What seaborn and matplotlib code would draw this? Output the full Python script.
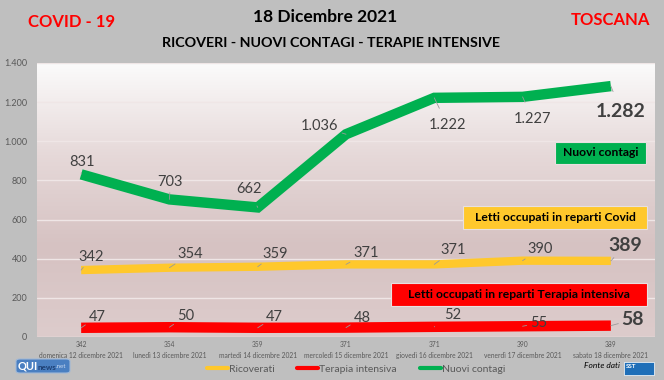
import numpy as np
import pandas as pd
import seaborn as sns
import matplotlib.pyplot as plt
from matplotlib.patches import Rectangle, FancyBboxPatch
from matplotlib.colors import LinearSegmentedColormap

# dati Toscana 12-18 dicembre 2021
giorni = ["domenica 12 dicembre 2021", "lunedì 13 dicembre 2021", "martedì 14 dicembre 2021",
          "mercoledì 15 dicembre 2021", "giovedì 16 dicembre 2021", "venerdì 17 dicembre 2021",
          "sabato 18 dicembre 2021"]
ricoverati = [342, 354, 359, 371, 371, 390, 389]
terapia_intensiva = [47, 50, 47, 48, 52, 55, 58]
nuovi_contagi = [831, 703, 662, 1036, 1222, 1227, 1282]
y_ticks = [0, 200, 400, 600, 800, 1000, 1200, 1400]

GIALLO = "#ffc82c"
ROSSO = "#ff0000"
VERDE = "#00b050"
GRIGIO = "#404040"

serie = {"Ricoverati": ricoverati, "Terapia intensiva": terapia_intensiva, "Nuovi contagi": nuovi_contagi}
df = pd.DataFrame([(i, nome, v) for nome, vals in serie.items() for i, v in enumerate(vals)],
                  columns=["giorno", "serie", "valore"])

sns.set_theme(style="white")
plt.rcParams["font.family"] = ["Lato", "DejaVu Sans"]

W, H = 664, 380
fig = plt.figure(figsize=(W / 100, H / 100), dpi=100, facecolor="#bfbfbf")
ax = fig.add_axes([37 / W, 1 - 337 / H, 618 / W, 274 / H])

# sfondo sfumato dell'area del grafico
sfondo = LinearSegmentedColormap.from_list("sf", ["#fbfbfb", "#e6d9d9", "#d6c2c2", "#ddcccc"])
ax.imshow(np.linspace(0, 1, 256).reshape(-1, 1), cmap=sfondo, extent=[0, 1, 0, 1],
          transform=ax.transAxes, aspect="auto", zorder=0)
ax.set_axisbelow(True)
ax.yaxis.grid(True, color="#efe6e6", linewidth=1.0)

larghezze = {"Ricoverati": 6, "Terapia intensiva": 7.5, "Nuovi contagi": 7.5}
colori = {"Ricoverati": GIALLO, "Terapia intensiva": ROSSO, "Nuovi contagi": VERDE}
for nome in serie:
    sns.lineplot(data=df[df["serie"] == nome], x="giorno", y="valore", color=colori[nome],
                 linewidth=larghezze[nome], ax=ax, legend=False, zorder=3,
                 solid_capstyle="butt", solid_joinstyle="miter")

ax.set_xlim(-0.5, 6.5)
ax.set_ylim(0, 1400)
ax.set_yticks(y_ticks)
ax.set_yticklabels([f"{v:,}".replace(",", ".") for v in y_ticks], fontsize=6.5, color="#595959")
ax.set_xticks(range(len(giorni)))
ax.set_xticklabels([f"{r}\n{g}" for r, g in zip(ricoverati, giorni)], fontsize=4.8,
                   color="#595959", linespacing=1.7)
ax.tick_params(axis="y", length=0, pad=7)
ax.tick_params(axis="x", length=0, pad=3)
ax.set_xlabel("")
ax.set_ylabel("")
for s in ax.spines.values():
    s.set_visible(False)

# etichette dei valori con linee di richiamo
off_contagi = [(1, 12), (1, 17), (-9, 18), (-26, 8), (13, -27), (10, -22), (10, -25)]
off_ricoverati = [(10, 13), (21, 14), (17, 13), (20, 11), (19, 14), (18, 12), (14, 15)]
off_terapia = [(16, 11), (16, 11), (17, 11), (16, 10), (18, 12), (16, 3), (22, 6)]


def etichette(valori, offsets):
    for i, (v, (dx, dy)) in enumerate(zip(valori, offsets)):
        ultimo = i == len(valori) - 1
        ax.annotate(f"{v:,}".replace(",", "."), (i, v), xytext=(dx, dy), textcoords="offset pixels",
                    ha="center", va="center", fontsize=14 if ultimo else 10.5,
                    fontweight="bold" if ultimo else "normal", color=GRIGIO, zorder=5,
                    arrowprops=dict(arrowstyle="-", color="#9a9a9a", lw=0.6,
                                    shrinkA=6 if ultimo else 5, shrinkB=0))


etichette(nuovi_contagi, off_contagi)
etichette(ricoverati, off_ricoverati)
etichette(terapia_intensiva, off_terapia)


def box(x0, y0, x1, y1, testo, colore):
    fig.patches.append(Rectangle((x0 / W, 1 - y1 / H), (x1 - x0) / W, (y1 - y0) / H,
                                 transform=fig.transFigure, facecolor=colore,
                                 edgecolor="#e8e0e0", linewidth=0.8, zorder=6))
    fig.text((x0 + x1) / 2 / W, 1 - (y0 + y1) / 2 / H, testo, ha="center", va="center",
             fontsize=8.7, fontweight="bold", color="black", zorder=7)


box(555, 142, 646, 164, "Nuovi contagi", VERDE)
box(463, 206, 647, 229, "Letti occupati in reparti Covid", GIALLO)
box(391, 283, 647, 306, "Letti occupati in reparti Terapia intensiva", ROSSO)

# intestazione
fig.text(72 / W, 1 - 22 / H, "COVID - 19", ha="center", va="center", fontsize=12,
         fontweight="bold", color="#ff0000")
fig.text(610 / W, 1 - 20 / H, "TOSCANA", ha="center", va="center", fontsize=12,
         fontweight="bold", color="#ff0000")
fig.text(325 / W, 1 - 17 / H, "18 Dicembre 2021", ha="center", va="center", fontsize=12.5,
         fontweight="bold", color="black")
fig.text(331 / W, 1 - 43 / H, "RICOVERI - NUOVI CONTAGI - TERAPIE INTENSIVE", ha="center",
         va="center", fontsize=10.3, fontweight="bold", color="black")

# legenda
maniglie = [plt.Line2D([], [], color=colori[n], linewidth=3) for n in serie]
fig.legend(maniglie, list(serie), loc="center", bbox_to_anchor=(356 / W, 1 - 369 / H), ncol=3,
           frameon=False, fontsize=7.5, handlelength=2.0, handletextpad=0.1, columnspacing=2.2,
           labelcolor="#595959")

# loghi
fig.patches.append(FancyBboxPatch((16 / W, 1 - 373 / H), 54 / W, 14 / H,
                                  boxstyle="round,pad=0,rounding_size=0.006",
                                  transform=fig.transFigure, facecolor="#4a7fc1",
                                  edgecolor="#9fb8d8", linewidth=0.8))
fig.text(18 / W, 1 - 366 / H, "QUI", ha="left", va="center", fontsize=8, fontweight="bold",
         color="white")
fig.text(37 / W, 1 - 367 / H, "news", ha="left", va="center", fontsize=5.8, fontweight="bold",
         color="#1d3f73")
fig.text(56 / W, 1 - 367 / H, ".net", ha="left", va="center", fontsize=4.5, color="#c8d8f0")
fig.text(602 / W, 1 - 366 / H, "Fonte dati", ha="center", va="center", fontsize=6,
         style="italic", color="black")
fig.patches.append(Rectangle((624 / W, 1 - 375 / H), 30 / W, 13 / H, transform=fig.transFigure,
                             facecolor="#1f6fb8", edgecolor="white", linewidth=0.5))
fig.text(631 / W, 1 - 366 / H, "SST", ha="center", va="center", fontsize=4.5, fontweight="bold",
         color="white")

fig.savefig("out.png", dpi=100, facecolor=fig.get_facecolor())
